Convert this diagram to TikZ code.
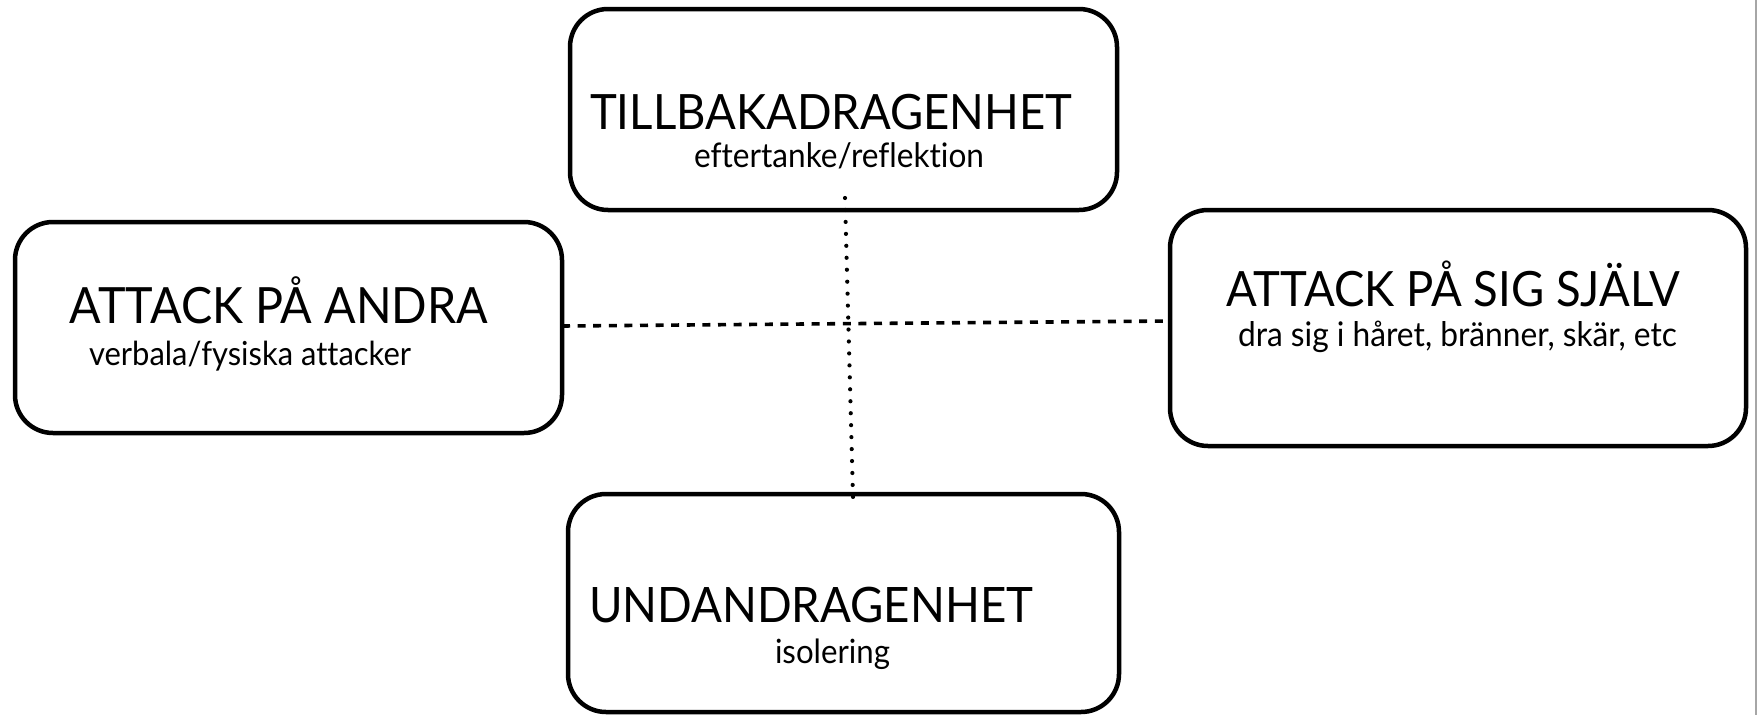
\documentclass[tikz,border=0pt]{standalone}
\usepackage{fontspec}
\setmainfont{Lato}[Ligatures={NoCommon}]
\usepackage{graphicx}
\newcommand{\fittext}[2]{\resizebox{#1}{!}{\scalebox{1}[1.07]{#2}}}
\tikzset{
  box/.style={draw=black, line width=4.5pt, rounded corners=38pt, rectangle, inner sep=0pt, outer sep=0pt},
  txt/.style={anchor=base west, inner sep=0pt, outer sep=0pt},
  dashline/.style={line width=3.6pt, dash pattern=on 8pt off 7.6pt},
  dotline/.style={line width=4.2pt, line cap=round, dash pattern=on 0pt off 11.96pt}
}
\begin{document}
\begin{tikzpicture}[x=1pt,y=-1pt]
\useasboundingbox (0,0) rectangle (1757,715);
% boxes
\node[box, minimum width=547pt, minimum height=201pt] (T) at (843.5,109.5) {};
\node[box, minimum width=547pt, minimum height=211pt] (L) at (288.5,327.5) {};
\node[box, minimum width=576pt, minimum height=236pt] (R) at (1458,328) {};
\node[box, minimum width=551pt, minimum height=218pt] (B) at (843.5,603) {};
% connector end points
\coordinate (dl) at ([yshift=1.5pt]L.east);
\coordinate (dr) at ([yshift=7pt]R.west);
\coordinate (d1) at ([xshift=1.5pt,yshift=12pt]T.south);
\coordinate (d2) at ([xshift=9.5pt,yshift=-3pt]B.north);
\draw[dashline] (dl) -- (dr);
\draw[dotline] (d1) -- (d2);
% texts
\node[txt] (t1) at (590,129) {\fittext{482pt}{TILLBAKADRAGENHET}};
\node[txt] (s1) at (694,167) {\fittext{290pt}{eftertanke/reflektion}};
\node[txt] (t2) at (70,323) {\fittext{418pt}{ATTACK PÅ ANDRA}};
\node[txt] (s2) at (89,365) {\fittext{322pt}{verbala/fysiska attacker}};
\node[txt] (t3) at (1226,306) {\fittext{454pt}{ATTACK PÅ SIG SJÄLV}};
\node[txt] (s3) at (1238,346) {\fittext{439pt}{dra sig i håret, bränner, skär, etc}};
\node[txt] (t4) at (589,622) {\fittext{444pt}{UNDANDRAGENHET}};
\node[txt] (s4) at (775,663) {\fittext{115pt}{isolering}};
% right edge line
\draw[gray!70, line width=1.5pt] (1756,0) -- (1756,715);
\end{tikzpicture}
\end{document}
